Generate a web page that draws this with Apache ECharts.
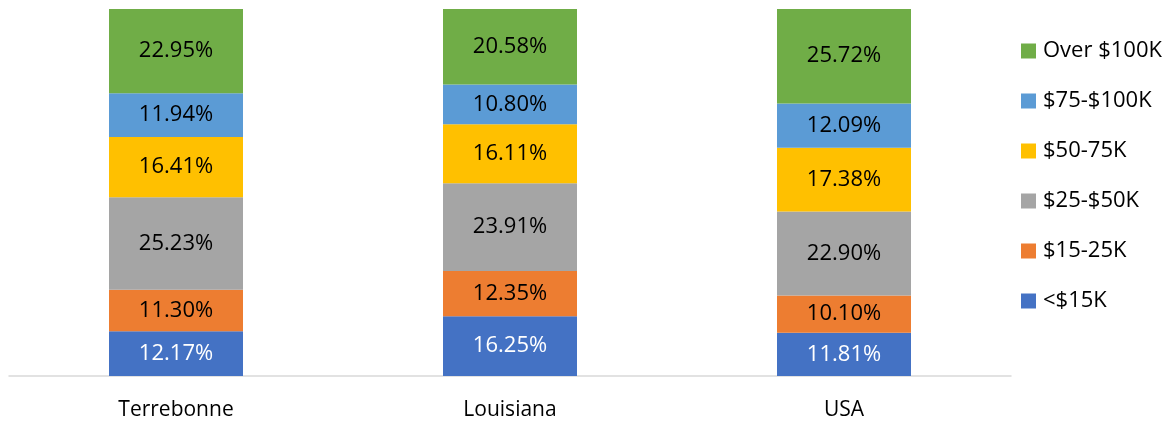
<!DOCTYPE html>
<html>
<head>
<meta charset="utf-8">
<script src="https://cdn.jsdelivr.net/npm/echarts@6/dist/echarts.min.js"></script>
<style>
  html, body { margin: 0; padding: 0; background: #fff; }
  #chart { width: 1170px; height: 424px; }
</style>
</head>
<body>
<div id="chart"></div>
<script>
  // categories
  var places = ['Terrebonne', 'Louisiana', 'USA'];

  // income brackets, bottom of stack first
  var under15 = [12.17, 16.25, 11.81];
  var from15to25 = [11.30, 12.35, 10.10];
  var from25to50 = [25.23, 23.91, 22.90];
  var from50to75 = [16.41, 16.11, 17.38];
  var from75to100 = [11.94, 10.80, 12.09];
  var over100 = [22.95, 20.58, 25.72];

  var chart = echarts.init(document.getElementById('chart'));

  function mkSeries(name, data, color, labelColor) {
    return {
      name: name,
      type: 'bar',
      stack: 'total',
      barWidth: 134,
      data: data,
      itemStyle: {color: color},
      label: {
        show: true,
        position: 'inside',
        color: labelColor,
        fontFamily: 'Open Sans',
        fontSize: 22,
        formatter: function (p) {
          return p.value.toFixed(2) + '%';
        }
      },
      emphasis: {disabled: true}
    };
  }

  chart.setOption({
    animation: false,
    grid: {left: 9, right: 159, top: 9, bottom: 48},
    legend: {
      orient: 'vertical',
      left: 1016,
      top: 35,
      itemWidth: 15,
      itemHeight: 15,
      itemGap: 28,
      icon: 'rect',
      textStyle: {fontFamily: 'Open Sans', fontSize: 22, lineHeight: 22, color: '#000', padding: [0, 0, 0, 2]},
      data: ['Over $100K', '$75-$100K', '$50-75K', '$25-$50K', '$15-25K', '<$15K']
    },
    xAxis: {
      type: 'category',
      data: places,
      axisLine: {lineStyle: {color: '#D9D9D9', width: 1.5}},
      axisTick: {show: false},
      axisLabel: {fontFamily: 'Open Sans', fontSize: 21, color: '#000', margin: 24}
    },
    yAxis: {
      type: 'value',
      min: 0,
      max: 100,
      show: false
    },
    series: [
      mkSeries('<$15K', under15, '#4472C4', '#fff'),
      mkSeries('$15-25K', from15to25, '#ED7D31', '#000'),
      mkSeries('$25-$50K', from25to50, '#A5A5A5', '#000'),
      mkSeries('$50-75K', from50to75, '#FFC000', '#000'),
      mkSeries('$75-$100K', from75to100, '#5B9BD5', '#000'),
      mkSeries('Over $100K', over100, '#70AD47', '#000')
    ]
  });
</script>
</body>
</html>
